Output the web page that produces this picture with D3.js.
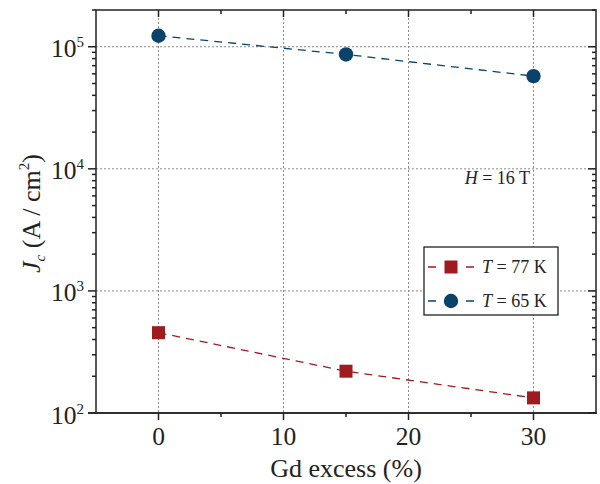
<!DOCTYPE html>
<html>
<head>
<meta charset="utf-8">
<script src="https://cdn.jsdelivr.net/npm/d3@7"></script>
<style>
  body { margin: 0; background: #fff; }
</style>
</head>
<body>
<div id="graph"></div>
<script>
// data
const gdExcess = [0, 15, 30];
const jc77 = [455, 220, 133];
const jc65 = [123000, 86500, 57500];
const seriesNames = ["77", "65"];
const xTicks = [0, 10, 20, 30];
const xMinor = [5, 15, 25];
const yDecades = [2, 3, 4, 5];

const W = 600, H = 484;
const pLeft = 96, pRight = 596, pTop = 10, pBottom = 413;
const red = "#a01b1f", blue = "#0a436a";
const serif = "Liberation Serif";

const svg = d3.select("#graph").append("svg")
  .attr("width", W).attr("height", H);

const x = d3.scaleLinear().domain([-5, 35]).range([pLeft, pRight]);
const y = d3.scaleLog().domain([100, 2e5]).range([pBottom, pTop]);

// minor log ticks
const yMinor = [];
[2, 3, 4, 5].forEach(e => {
  for (let k = 2; k <= 9; k++) {
    const v = k * Math.pow(10, e);
    if (v <= 2e5) yMinor.push(v);
  }
});
const yMajor = yDecades.map(e => Math.pow(10, e));

//grid
const grid = svg.append("g").attr("stroke", "#8a8a8a").attr("stroke-width", 1)
  .attr("stroke-dasharray", "2,2");
xTicks.forEach(t => grid.append("line")
  .attr("x1", x(t)).attr("x2", x(t)).attr("y1", pTop).attr("y2", pBottom));
yMajor.filter(v => v > 100).forEach(v => grid.append("line")
  .attr("x1", pLeft).attr("x2", pRight).attr("y1", y(v)).attr("y2", y(v)));

// axes
const ax = svg.append("g").attr("stroke", "#222").attr("stroke-width", 1.5);
ax.append("rect").attr("x", pLeft).attr("y", pTop)
  .attr("width", pRight - pLeft).attr("height", pBottom - pTop).attr("fill", "none");
ax.append("line").attr("x1", pLeft - 8).attr("x2", pRight + 1).attr("y1", pBottom).attr("y2", pBottom);

// bottom ticks outward, top ticks inward
xTicks.forEach(t => {
  ax.append("line").attr("x1", x(t)).attr("x2", x(t)).attr("y1", pBottom).attr("y2", pBottom + 7);
  ax.append("line").attr("x1", x(t)).attr("x2", x(t)).attr("y1", pTop).attr("y2", pTop + 7);
});
xMinor.forEach(t => {
  ax.append("line").attr("x1", x(t)).attr("x2", x(t)).attr("y1", pBottom).attr("y2", pBottom + 4);
  ax.append("line").attr("x1", x(t)).attr("x2", x(t)).attr("y1", pTop).attr("y2", pTop + 4);
});
yMajor.forEach(v => {
  ax.append("line").attr("x1", pLeft - 8).attr("x2", pLeft).attr("y1", y(v)).attr("y2", y(v));
  ax.append("line").attr("x1", pRight - 8).attr("x2", pRight).attr("y1", y(v)).attr("y2", y(v));
});
yMinor.forEach(v => {
  ax.append("line").attr("x1", pLeft - 4).attr("x2", pLeft).attr("y1", y(v)).attr("y2", y(v));
  ax.append("line").attr("x1", pRight - 4).attr("x2", pRight).attr("y1", y(v)).attr("y2", y(v));
});

const txt = svg.append("g").attr("fill", "#222");

// tick labels
xTicks.forEach(t => txt.append("text")
  .attr("x", x(t)).attr("y", 445).attr("text-anchor", "middle")
  .attr("font-size", 25.5).text(t));
yDecades.forEach(e => {
  const tx = txt.append("text").attr("x", 84).attr("y", y(Math.pow(10, e)) + 10.5)
    .attr("text-anchor", "end").attr("font-size", 25.5);
  tx.append("tspan").text("10");
  tx.append("tspan").attr("dy", -10).attr("font-size", 15).text(e);
});

// axis titles
txt.append("text").attr("x", (pLeft + pRight) / 2).attr("y", 477)
  .attr("text-anchor", "middle").attr("font-size", 26).text("Gd excess (%)");
const yl = txt.append("text")
  .attr("transform", "translate(40," + ((pTop + pBottom) / 2 + 2) + ") rotate(-90)")
  .attr("text-anchor", "middle").attr("font-size", 26);
yl.append("tspan").attr("font-style", "italic").text("J");
yl.append("tspan").attr("font-style", "italic").attr("font-size", 15).attr("dy", 5).text("c");
yl.append("tspan").attr("dy", -5).text(" (A / cm");
yl.append("tspan").attr("font-size", 15).attr("dy", -11).text("2");
yl.append("tspan").attr("dy", 11).text(")");

// lines + markers
const line = d3.line().x(d => x(d[0])).y(d => y(d[1]));
const s77 = gdExcess.map((g, i) => [g, jc77[i]]);
const s65 = gdExcess.map((g, i) => [g, jc65[i]]);

svg.append("path").datum(s77).attr("d", line).attr("fill", "none")
  .attr("stroke", red).attr("stroke-width", 1.3).attr("stroke-dasharray", "8,6");
svg.append("path").datum(s65).attr("d", line).attr("fill", "none")
  .attr("stroke", blue).attr("stroke-width", 1.3).attr("stroke-dasharray", "8,6");

svg.selectAll("rect.sq").data(s77).enter().append("rect").attr("class", "sq")
  .attr("x", d => x(d[0]) - 6.5).attr("y", d => y(d[1]) - 6.5)
  .attr("width", 13).attr("height", 13).attr("fill", red);
svg.selectAll("circle.dot").data(s65).enter().append("circle").attr("class", "dot")
  .attr("cx", d => x(d[0])).attr("cy", d => y(d[1])).attr("r", 7.2).attr("fill", blue);

// annotation
const ann = txt.append("text").attr("x", 530).attr("y", 184)
  .attr("text-anchor", "end").attr("font-size", 18);
ann.append("tspan").attr("font-style", "italic").text("H");
ann.append("tspan").text(" = 16 T");

// legend
const leg = svg.append("g").attr("transform", "translate(424,247)");
leg.append("rect").attr("width", 134).attr("height", 68)
  .attr("fill", "#fff").attr("stroke", "#222").attr("stroke-width", 1.3);
[[red, "sq"], [blue, "dot"]].forEach((s, i) => {
  const cy = 20 + i * 34;
  leg.append("line").attr("x1", 4).attr("x2", 50).attr("y1", cy).attr("y2", cy)
    .attr("stroke", s[0]).attr("stroke-width", 1.3).attr("stroke-dasharray", "8,30");
  if (s[1] === "sq") {
    leg.append("rect").attr("x", 27 - 6.5).attr("y", cy - 6.5).attr("width", 13).attr("height", 13)
      .attr("fill", s[0]);
  } else {
    leg.append("circle").attr("cx", 27).attr("cy", cy).attr("r", 7.2).attr("fill", s[0]);
  }
  const t = leg.append("text").attr("x", 58).attr("y", cy + 6).attr("font-size", 18)
    .attr("fill", "#222");
  t.append("tspan").attr("font-style", "italic").text("T");
  t.append("tspan").text(" = " + seriesNames[i] + " K");
});

// font on every text node directly
svg.selectAll("text").attr("font-family", serif).style("font-family", serif);
svg.selectAll("tspan").attr("font-family", serif).style("font-family", serif);
</script>
</body>
</html>
